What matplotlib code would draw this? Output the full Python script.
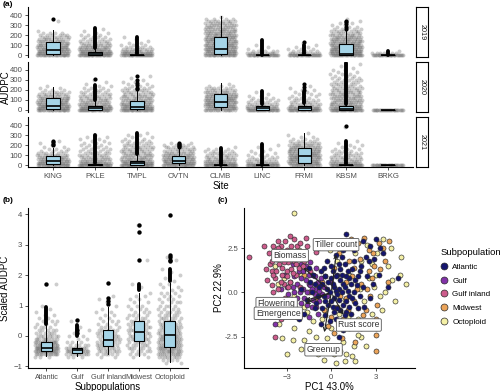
import numpy as np
import matplotlib
matplotlib.use('Agg')
import matplotlib.pyplot as plt
from matplotlib.lines import Line2D

plt.rcParams['font.family'] = ['Liberation Sans', 'DejaVu Sans']

# ---------------- panel (a) data: AUDPC by site and year ----------------
sites = ['KING', 'PKLE', 'TMPL', 'OVTN', 'CLMB', 'LINC', 'FRMI', 'KBSM', 'BRKG']
years = ['2019', '2020', '2021']
nan = np.nan

whis_lo = [[0, 0, 0, nan, 0, 0, 0, 0, 0],
           [0, 0, 0, nan, 0, 0, 0, 0, 0],
           [0, 0, 0, 0, 0, 0, 0, 0, 0]]
box_q1 = [[12, 2, 0, nan, 15, 0, 0, 0, 0],
          [10, 5, 8, nan, 30, 5, 5, 2, 0],
          [10, 0, 5, 20, 0, 0, 20, 0, 0]]
box_med = [[50, 12, 0, nan, 60, 0, 0, 15, 0],
           [40, 22, 35, nan, 85, 18, 20, 12, 0],
           [40, 2, 22, 45, 0, 0, 90, 0, 0]]
box_q3 = [[130, 28, 3, nan, 180, 2, 3, 110, 2],
          [120, 40, 95, nan, 160, 40, 42, 40, 0],
          [90, 8, 45, 90, 2, 2, 170, 3, 0]]
whis_hi = [[250, 65, 8, nan, 390, 5, 8, 240, 4],
           [235, 95, 200, nan, 270, 55, 65, 55, 0],
           [170, 15, 105, 170, 4, 4, 320, 8, 0]]

# outliers so dense they merge into a bar: (low, high)
dense_out = [[None, (70, 270), (10, 180), None, None, (5, 150), (10, 100), None, (5, 40)],
             [None, (100, 250), None, None, None, (60, 190), (70, 180), (60, 470), None],
             [None, (20, 300), (110, 320), None, (5, 175), (5, 210), None, (10, 240), None]]
sparse_out = [[[358], [], [], [], [], [], [130], [260, 285, 310, 330, 345], []],
              [[], [310], [210, 225, 250, 270, 300, 345], [], [], [], [200, 230, 260], [], []],
              [[200, 215, 230, 245], [], [], [185, 195, 205, 215, 222], [], [], [], [390], []]]

# grey jittered raw points: counts per 20-unit AUDPC level (0, 20, 40, ...)
cloud_step = 20
cloud_2019 = [[25, 20, 18, 16, 15, 14, 12, 10, 9, 8, 6, 4, 1, 0, 0, 0, 0, 1],
              [30, 22, 18, 14, 12, 10, 8, 6, 5, 4, 3, 2, 1, 1],
              [30, 18, 12, 8, 5, 3, 2, 1, 1, 1],
              [],
              [25, 18, 17, 17, 16, 16, 15, 15, 14, 14, 13, 12, 12, 11, 10, 10, 9, 8, 4, 1],
              [30, 10, 5, 2, 1, 1],
              [30, 10, 5, 3, 2, 1, 1],
              [28, 22, 20, 18, 18, 16, 15, 14, 13, 12, 10, 8, 7, 5, 3, 2, 2, 1, 1],
              [30, 6, 1]]
cloud_2020 = [[25, 20, 18, 16, 15, 13, 12, 10, 8, 6, 3, 2, 1],
              [30, 22, 16, 12, 10, 10, 8, 8, 6, 5, 4, 3, 2, 1, 1, 1],
              [28, 20, 16, 14, 12, 11, 10, 10, 8, 7, 6, 5, 3, 2, 2, 1, 1, 1],
              [],
              [18, 16, 16, 16, 16, 16, 15, 14, 12, 10, 8, 6, 3, 1],
              [30, 15, 10, 8, 6, 4, 3, 2, 1, 1],
              [30, 18, 10, 8, 6, 5, 4, 3, 3, 2, 2, 1, 1],
              [30, 18, 14, 12, 12, 11, 10, 10, 10, 9, 8, 7, 6, 6, 5, 5, 4, 3, 3, 2, 2, 1, 1, 1],
              [30]]
cloud_2021 = [[25, 18, 15, 13, 12, 10, 6, 4, 3, 2, 1, 1, 1],
              [30, 16, 12, 10, 8, 7, 6, 5, 4, 4, 3, 3, 2, 2, 2, 1],
              [30, 18, 14, 12, 10, 10, 9, 8, 8, 7, 6, 5, 4, 3, 2, 2, 1],
              [22, 18, 16, 15, 14, 12, 10, 8, 7, 6, 4, 2],
              [30, 16, 12, 10, 8, 7, 6, 5, 3, 1],
              [30, 12, 8, 6, 4, 3, 2, 2, 1, 1, 1],
              [20, 18, 16, 16, 16, 16, 15, 14, 14, 12, 10, 8, 5, 3, 2, 1, 1],
              [30, 14, 10, 8, 7, 6, 5, 4, 3, 2, 2, 1, 1, 0, 0, 0, 0, 0, 0, 1],
              [30]]
clouds = [cloud_2019, cloud_2020, cloud_2021]

# ---------------- panel (b) data: scaled AUDPC by subpopulation ----------------
subpops = ['Atlantic', 'Gulf', 'Gulf inland', 'Midwest', 'Octoploid']
b_stats = [(-0.65, -0.48, -0.38, -0.21, 0.35),
           (-0.65, -0.55, -0.47, -0.38, -0.15),
           (-0.60, -0.33, -0.13, 0.20, 0.95),
           (-0.65, -0.15, 0.12, 0.50, 1.40),
           (-0.85, -0.37, 0.03, 0.50, 1.75)]
b_dense_out = [(0.40, 0.95), (0.0, 0.35), None, (1.50, 1.70), (1.80, 2.20)]
b_sparse_out = [[1.70], [0.52, 0.20, 0.10], [1.05, 1.15, 1.25, 1.73],
                [2.50, 3.42, 3.65], [2.45, 2.50, 2.60, 2.65, 3.97]]
# grey raw points: (scaled AUDPC level, count)
b_cloud_atl = [(-0.7, 3), (-0.6, 14), (-0.5, 22), (-0.4, 22), (-0.3, 18), (-0.2, 14),
               (-0.1, 10), (0.0, 8), (0.1, 6), (0.2, 5), (0.3, 4), (0.4, 3), (0.5, 3),
               (0.6, 2), (0.7, 2), (0.8, 1), (0.9, 1), (1.0, 1), (1.7, 1)]
b_cloud_gulf = [(-0.7, 3), (-0.6, 10), (-0.5, 14), (-0.4, 10), (-0.3, 5), (-0.2, 3),
                (-0.1, 2), (0.0, 2), (0.1, 1), (0.2, 1), (0.3, 1), (0.5, 1)]
b_cloud_gin = [(-0.7, 2), (-0.6, 6), (-0.5, 8), (-0.4, 8), (-0.3, 8), (-0.2, 8),
               (-0.1, 7), (0.0, 7), (0.1, 6), (0.2, 5), (0.3, 4), (0.4, 3), (0.5, 3),
               (0.6, 2), (0.7, 2), (0.8, 2), (0.9, 1), (1.0, 1), (1.1, 1), (1.2, 1), (1.3, 1)]
b_cloud_mid = [(-0.7, 2), (-0.6, 4), (-0.5, 5), (-0.4, 6), (-0.3, 6), (-0.2, 6),
               (-0.1, 7), (0.0, 7), (0.1, 7), (0.2, 6), (0.3, 6), (0.4, 5), (0.5, 5),
               (0.6, 4), (0.7, 4), (0.8, 3), (0.9, 3), (1.0, 3), (1.1, 2), (1.2, 2),
               (1.3, 2), (1.4, 1), (1.6, 1), (1.7, 1), (2.5, 1), (3.65, 1)]
b_cloud_oct = [(-0.9, 2), (-0.8, 4), (-0.7, 8), (-0.6, 12), (-0.5, 14), (-0.4, 14),
               (-0.3, 13), (-0.2, 12), (-0.1, 12), (0.0, 11), (0.1, 10), (0.2, 9),
               (0.3, 8), (0.4, 7), (0.5, 6), (0.6, 6), (0.7, 5), (0.8, 5), (0.9, 4),
               (1.0, 4), (1.1, 4), (1.2, 3), (1.3, 3), (1.4, 3), (1.5, 2), (1.6, 2),
               (1.7, 2), (1.8, 1), (1.9, 1), (2.0, 1), (2.1, 1), (2.2, 1), (2.5, 1), (2.6, 1)]
b_clouds = [b_cloud_atl, b_cloud_gulf, b_cloud_gin, b_cloud_mid, b_cloud_oct]

# ---------------- panel (c) data: PCA scores and loadings ----------------
pc_atlantic = [(0.5, 0.2), (0.8, 0.5), (0.2, -0.3), (1.0, -0.5), (0.4, 1.0), (-0.2, 0.6),
               (1.2, 0.8), (0.6, -1.0), (-0.5, -0.2), (1.5, 0.0), (0.0, 1.5), (0.9, 1.6),
               (-0.8, 0.3), (1.3, -1.2), (0.3, -1.5), (-1.0, -0.6), (1.8, 0.9), (0.7, 2.0),
               (-0.3, 1.8), (1.6, -0.6), (2.0, 1.5), (-1.3, 0.0), (0.2, 0.3), (0.5, -0.4),
               (1.1, 0.1), (-0.6, -0.9), (1.4, 1.3), (0.1, -0.8), (0.9, -1.8), (-1.6, -0.4),
               (-2.0, 0.2), (2.3, 2.0), (2.6, 2.6), (3.0, 3.0), (1.0, 3.3), (2.1, 2.9),
               (4.5, 0.8), (3.2, 1.0), (2.5, 1.8), (3.5, 2.2), (-0.9, 2.5), (0.4, 2.6),
               (1.9, -0.2), (-1.8, -1.2), (0.8, -2.1), (-0.4, -1.3), (2.8, 0.5), (-1.2, 1.0),
               (0.3, 0.9), (0.6, 1.3), (1.2, -0.2), (-0.1, 0.0), (0.0, -0.5), (1.7, 0.4),
               (-0.7, 1.2), (0.5, -2.5), (3.8, 0.3), (2.2, -0.8), (-2.2, -1.5), (1.5, 2.4),
               (0.1, 0.5), (0.7, 0.0), (-0.4, 0.9), (1.0, -1.1), (0.4, -0.9), (-1.1, 0.5),
               (0.3, 0.1), (0.9, 0.3), (1.3, 0.5), (0.6, 0.7), (-0.3, 0.2), (0.2, -1.1),
               (0.8, -0.7), (1.4, -0.3), (0.1, 1.2), (0.7, 1.0), (1.1, 1.2), (-0.6, 0.5),
               (-0.2, -0.7), (0.4, -0.1), (1.6, 0.7), (1.0, 0.9), (-0.9, -0.2), (0.5, 1.6),
               (1.2, -0.8), (0.0, 0.8), (-1.4, 0.6), (-0.4, -0.5), (0.9, -1.3), (1.8, -0.9),
               (2.1, 0.3), (0.3, 2.1), (-0.5, 1.4), (1.5, 1.8), (0.6, -1.6), (-1.1, -0.9),
               (2.4, 0.9), (1.9, 1.2), (-0.1, -1.6), (0.8, 2.4), (-1.5, 1.4), (2.6, -0.3),
               (3.3, 2.5), (1.2, 2.8), (2.9, 1.9), (-0.7, -1.8)]
pc_gulf = [(-1.5, 0.5), (-2.0, 0.8), (-1.0, 0.2), (-2.5, 0.0), (-1.8, -0.3), (-1.2, 1.0),
           (-0.8, -0.5), (-2.2, 1.2), (-1.6, 0.0), (-2.8, 0.6), (-0.5, 0.3), (-1.3, -0.8),
           (-2.0, -0.6), (-1.0, 1.4), (-1.7, 1.5), (-2.4, -1.0), (-0.7, 0.8), (-3.0, 0.3),
           (-1.4, 0.4), (-1.9, 0.2), (-0.3, -0.2), (-2.6, 1.6), (-3.8, -1.8), (-1.1, -0.1),
           (-2.3, 0.5), (-0.9, -1.2), (-1.5, -1.4), (-3.2, 1.0), (-2.7, -0.4), (0.0, 0.6),
           (-1.3, 0.2), (-1.7, 0.7), (-2.1, 0.0), (-0.9, 0.6), (-1.5, 1.0), (-2.5, 0.9),
           (-1.2, -0.4), (-0.6, -0.1), (-1.9, 1.2), (-2.3, -0.3), (-1.0, -0.8), (-2.9, -0.1),
           (-1.6, -0.7), (-0.4, 0.9), (-2.0, 1.6), (-0.8, 0.1), (-1.4, 1.7), (-2.6, 0.3),
           (-3.4, 0.2), (-1.1, 0.9)]
pc_gulf_inland = [(-3.0, 1.2), (-3.5, 1.6), (-2.5, 1.8), (-3.8, 0.8), (-2.8, 0.6), (-3.2, 2.0),
                  (-4.0, 1.2), (-2.2, 1.4), (-3.6, 0.2), (-2.6, 2.2), (-3.3, 1.0), (-4.2, 2.2),
                  (-3.0, 2.4), (-2.0, 2.0), (-3.9, 0.0), (-2.4, 1.0), (-3.4, 2.6), (-4.1, 1.6),
                  (-2.9, 1.7), (-3.7, 1.9), (-5.5, 2.0), (-3.6, 2.9), (-2.5, 3.0), (-1.6, 2.6),
                  (-1.0, 2.3), (-3.1, -0.3), (-2.1, 0.3), (-3.5, -0.6), (-1.8, 1.8), (-2.7, 1.3),
                  (-3.9, 2.6), (-1.4, 1.2), (-3.2, 0.5), (-4.3, 0.7), (-2.3, 2.6), (-3.8, -2.5),
                  (-2.0, -1.2), (-3.3, 1.4), (-2.8, 2.0), (-3.7, 1.2), (-3.0, 0.9), (-2.4, 1.6),
                  (-3.5, 2.2), (-4.0, 1.8), (-2.7, 2.6), (-3.2, 1.7), (-3.9, 1.0), (-2.2, 2.2),
                  (-3.4, 0.6), (-2.6, 1.1), (-3.6, 2.5), (-4.4, 1.3), (-2.9, 0.3), (-3.1, 2.9),
                  (-4.0, 0.4), (-1.9, 1.5), (-2.1, 2.8), (-4.5, 2.6), (-3.4, -1.5), (-2.8, 3.2),
                  (-1.7, 3.1)]
pc_midwest = [(1.5, -0.5), (2.0, 0.5), (0.8, -1.5), (2.5, 1.2), (1.2, 1.8), (3.0, -1.5),
              (3.0, -3.3), (3.5, 2.5), (3.6, 1.8), (2.3, -1.0), (1.8, 2.8), (0.5, 2.2),
              (-0.5, -1.0), (1.0, 0.6), (2.8, 2.2), (-1.0, -0.4), (0.2, -2.3), (1.6, -2.8),
              (2.2, 3.1), (3.2, 2.8), (-1.5, 0.0), (0.6, -0.2), (1.4, 0.9), (2.6, -0.2),
              (-0.2, -1.9), (1.1, -1.0), (3.8, 0.6), (0.9, 2.6), (-2.5, -0.8), (2.0, -2.0),
              (1.3, 3.0), (0.0, -3.0), (2.9, 1.5), (-1.8, 1.0), (1.7, 0.2), (2.4, 0.2),
              (1.0, -0.3), (0.4, -0.8), (2.7, 0.8), (1.5, 1.4), (0.2, 1.4), (2.1, -1.3),
              (1.3, -1.8), (3.3, 1.3), (3.9, 2.9), (0.7, -2.6), (2.5, 2.4), (-0.6, 0.6),
              (1.9, 1.9), (3.1, -0.7), (0.0, -1.4), (3.0, -2.4)]
pc_octoploid = [(-2.5, 4.5), (5.0, 0.5), (4.3, -0.5), (-3.0, -3.5), (-2.0, -3.2), (-0.5, -3.8),
                (0.3, -4.0), (1.0, -3.5), (1.5, -3.0), (-1.0, -2.5), (0.0, -2.0), (2.0, -2.5),
                (-3.5, -1.8), (-2.5, -2.0), (3.0, 1.0), (3.8, 1.5), (2.5, 0.8), (1.8, -1.5),
                (-1.5, -2.2), (4.0, 2.5), (3.3, -0.2), (0.8, -2.8), (-0.2, -3.2), (2.7, -1.2),
                (1.2, -2.0), (-1.2, -1.6), (0.5, -1.2), (-2.8, -0.5), (-3.2, 0.8), (-2.0, 1.0),
                (-1.0, 0.5), (0.4, 1.8), (1.6, 2.2), (2.4, 2.7), (3.5, 3.0), (-3.8, 1.5),
                (-0.8, 2.8), (2.0, 1.8), (3.0, -2.0), (-1.8, -0.8), (0.9, -0.4), (1.9, 0.2),
                (-4.2, -0.8), (-0.6, -1.5), (1.4, -3.6), (0.6, -3.3), (2.2, -0.5), (4.6, 1.0),
                (-2.3, -1.4), (3.6, 0.0), (-1.4, -3.0), (-0.9, -3.5), (0.9, -3.9), (1.8, -2.4),
                (2.6, -1.8), (3.4, -1.0), (-2.6, -2.7), (-3.3, -2.6), (-0.3, -2.6), (1.1, -1.4),
                (2.9, 0.3), (4.1, 0.7), (3.1, 2.2), (2.7, 1.6), (1.2, 1.0), (-0.4, -1.0),
                (-1.6, -1.1), (-2.5, -0.2), (-3.6, 0.5), (0.2, -3.5), (2.3, -3.0), (-1.8, -2.7),
                (4.7, 2.0), (1.6, -3.9), (-0.1, 2.4), (-2.2, 2.4)]
pc_groups = [pc_atlantic, pc_gulf, pc_gulf_inland, pc_midwest, pc_octoploid]
pc_colors = ['#15156e', '#8232a8', '#cd5c8c', '#eba45a', '#f4f0a6']

loadings = ['Tiller count', 'Biomass', 'Flowering', 'Emergence', 'Rust score', 'Greenup']
load_x = [0.35, -2.0, -1.9, -1.9, 0.9, -0.5]
load_y = [2.3, 1.5, -0.5, -0.7, -1.4, -2.4]
label_x = [0.32, -2.77, -3.67, -3.56, 1.85, -0.52]
label_y = [2.70, 2.08, -0.63, -1.18, -1.84, -3.24]

# ---------------- styling ----------------
BOX_FILL = '#a5d4e7'
GREY_TXT = '#4d4d4d'
TICK_FS = 5.6
TITLE_FS = 6.9


def jitter(n, width, seed_shift=0.0):
    # evenly spread horizontal offsets (golden-ratio sequence)
    k = np.arange(n) + seed_shift
    return ((k * 0.6180339887) % 1.0 - 0.5) * 2 * width


def style_axis(ax):
    for s in ['top', 'right']:
        ax.spines[s].set_visible(False)
    for s in ['left', 'bottom']:
        ax.spines[s].set_linewidth(0.8)
    ax.tick_params(labelsize=TICK_FS, labelcolor=GREY_TXT, length=2.5, width=0.6,
                   pad=1.5, color='#333333')


def draw_box(ax, x, stats, width):
    lo, q1, med, q3, hi = stats
    ax.bxp([{'whislo': lo, 'q1': q1, 'med': med, 'q3': q3, 'whishi': hi, 'fliers': []}],
           positions=[x], widths=width, patch_artist=True, showcaps=False,
           showfliers=False, manage_ticks=False,
           boxprops=dict(facecolor=BOX_FILL, edgecolor='black', linewidth=0.8),
           medianprops=dict(color='black', linewidth=1.2),
           whiskerprops=dict(color='black', linewidth=0.7), zorder=3)


fig = plt.figure(figsize=(5.0, 3.91), dpi=100)
W, H = 500.0, 391.0


def px_axes(x0, y0, x1, y1):
    return fig.add_axes([x0 / W, 1 - y1 / H, (x1 - x0) / W, (y1 - y0) / H])


# ---------------- panel (a) ----------------
row_px = [(7, 57), (62, 112), (117, 167)]
xpos = np.arange(1, len(sites) + 1)
for r, yr in enumerate(years):
    ax = px_axes(28, row_px[r][0], 413, row_px[r][1])
    for i in range(len(sites)):
        counts = clouds[r][i]
        ys = []
        for lev, c in enumerate(counts):
            ys += [lev * cloud_step] * c
        if ys:
            xs = xpos[i] + jitter(len(ys), 0.38, seed_shift=i * 7 + r * 3)
            ax.scatter(xs, ys, s=8, color='#707070', alpha=0.35, linewidths=0, zorder=1)
        if np.isnan(box_q1[r][i]):
            continue
        if dense_out[r][i] is not None:
            lo, hi = dense_out[r][i]
            ax.vlines(xpos[i], lo, hi, color='black', linewidth=2.8, zorder=4,
                      capstyle='round')
        if sparse_out[r][i]:
            ax.scatter([xpos[i]] * len(sparse_out[r][i]), sparse_out[r][i], s=9,
                       color='black', linewidths=0, zorder=4)
        draw_box(ax, xpos[i], (whis_lo[r][i], box_q1[r][i], box_med[r][i],
                               box_q3[r][i], whis_hi[r][i]), 0.32)
    ax.set_xlim(0.4, len(sites) + 0.6)
    ax.set_ylim(-20, 480)
    ax.set_yticks([0, 100, 200, 300, 400])
    style_axis(ax)
    if r < 2:
        ax.spines['bottom'].set_visible(False)
        ax.set_xticks([])
    else:
        ax.set_xticks(xpos)
        ax.set_xticklabels(sites)
        ax.set_xlabel('Site', fontsize=TITLE_FS, labelpad=1)
    # facet strip
    sax = px_axes(416, row_px[r][0], 428, row_px[r][1])
    sax.set_xticks([])
    sax.set_yticks([])
    for s in sax.spines.values():
        s.set_linewidth(0.8)
    sax.text(0.5, 0.5, yr, rotation=-90, ha='center', va='center',
             fontsize=5.2, color='#1a1a1a', transform=sax.transAxes)

fig.text(6 / W, 1 - 87 / H, 'AUDPC', rotation=90, ha='center', va='center',
         fontsize=TITLE_FS)

# ---------------- panel (b) ----------------
axb = px_axes(28, 208, 188, 368)
bpos = np.arange(1, len(subpops) + 1)
for i in range(len(subpops)):
    ys = []
    for v, c in b_clouds[i]:
        ys += [v] * c
    xs = bpos[i] + jitter(len(ys), 0.38, seed_shift=i * 5)
    axb.scatter(xs, ys, s=8, color='#707070', alpha=0.35, linewidths=0, zorder=1)
    if b_dense_out[i] is not None:
        lo, hi = b_dense_out[i]
        axb.vlines(bpos[i], lo, hi, color='black', linewidth=2.8, zorder=4,
                   capstyle='round')
    axb.scatter([bpos[i]] * len(b_sparse_out[i]), b_sparse_out[i], s=10,
                color='black', linewidths=0, zorder=4)
    draw_box(axb, bpos[i], b_stats[i], 0.34)
axb.set_xlim(0.4, len(subpops) + 0.6)
axb.set_ylim(-1.05, 4.2)
axb.set_yticks([-1, 0, 1, 2, 3, 4])
axb.set_xticks(bpos)
axb.set_xticklabels(subpops)
style_axis(axb)
axb.tick_params(axis='x', labelsize=5.3)
axb.set_xlabel('Subpopulations', fontsize=TITLE_FS, labelpad=1)
fig.text(5 / W, 1 - 288 / H, 'Scaled AUDPC', rotation=90, ha='center', va='center',
         fontsize=TITLE_FS)

# ---------------- panel (c) ----------------
axc = px_axes(244, 208, 415, 368)
for g in [4, 3, 1, 2, 0]:
    pts = np.array(pc_groups[g])
    axc.scatter(pts[:, 0], pts[:, 1], s=13, facecolor=pc_colors[g],
                edgecolor='#2a2a2a', linewidths=0.45, zorder=2)
for k in range(len(loadings)):
    axc.annotate('', xy=(load_x[k], load_y[k]), xytext=(0, 0),
                 arrowprops=dict(arrowstyle='->', color='#222222', lw=0.8,
                                 mutation_scale=6), zorder=3)
    axc.text(label_x[k], label_y[k], loadings[k], ha='center', va='center',
             fontsize=6.2, color='#333333', zorder=5,
             bbox=dict(boxstyle='round,pad=0.2,rounding_size=0.15',
                       facecolor='white', edgecolor='#555555', linewidth=0.6))
axc.set_xlim(-5.86, 5.62)
axc.set_ylim(-4.27, 4.77)
axc.set_xticks([-3, 0, 3])
axc.set_yticks([-2.5, 0.0, 2.5])
axc.set_yticklabels(['-2.5', '0.0', '2.5'])
style_axis(axc)
axc.set_xlabel('PC1 43.0%', fontsize=TITLE_FS, labelpad=1)
axc.set_ylabel('PC2 22.9%', fontsize=TITLE_FS, labelpad=1)

handles = [Line2D([], [], marker='o', linestyle='', markersize=5.0,
                  markerfacecolor=c, markeredgecolor='#2a2a2a', markeredgewidth=0.5)
           for c in pc_colors]
fig.legend(handles, subpops, title='Subpopulation', loc='upper left',
           bbox_to_anchor=(437 / W, 1 - 245 / H), frameon=False, fontsize=5.8,
           title_fontsize=6.8, labelspacing=0.75, handletextpad=0.5,
           handlelength=1.0, alignment='left', borderaxespad=0)

# panel tags
fig.text(3 / W, 1 - 5 / H, '(a)', fontsize=6, fontweight='bold', va='center')
fig.text(3 / W, 1 - 200 / H, '(b)', fontsize=6, fontweight='bold', va='center')
fig.text(218 / W, 1 - 201 / H, '(c)', fontsize=6, fontweight='bold', va='center')

fig.savefig('out.png', dpi=100)
